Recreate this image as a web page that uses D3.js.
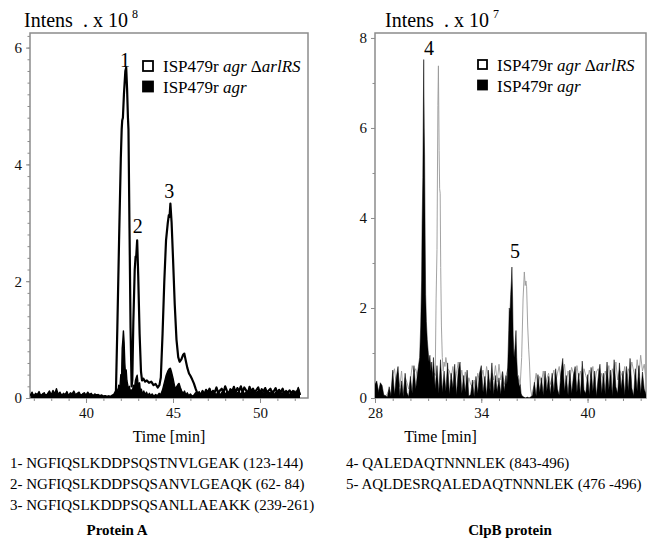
<!DOCTYPE html>
<html lang="en">
<head>
<meta charset="UTF-8">
<title>Protein A / ClpB chromatograms</title>
<script src="https://d3js.org/d3.v7.min.js"></script>
<style>
  body { margin: 0; background: #fff; }
  svg { display: block; font-family: "Liberation Serif", "Times New Roman", serif; }
</style>
</head>
<body>
<svg id="chart" width="655" height="546"></svg>
<script>
// ---------- data (intensity in units of 10^8 for protein A, 10^7 for ClpB) ----------

// Protein A, sampled every 0.1 min from 36.8 min
const protAStart = 36.8, protAStep = 0.1;
const protAAgrGrid = [
  0.05,0.10,0.03,0.08,0.06,0.11,0.04,0.07,0.09,0.03,
  0.08,0.12,0.05,0.13,0.07,0.16,0.06,0.10,0.04,0.08,
  0.06,0.11,0.04,0.09,0.07,0.12,0.05,0.08,0.10,0.04,
  0.07,0.09,0.05,0.10,0.06,0.08,0.04,0.07,0.05,0.06,
  0.04,0.05,0.03,0.04,0.02,0.03,0.02,0.03,0.03,0.05,
  0,0,0,0,0,0,0,0,0,0,
  0,0,0,0,0,0,0,0,0,0,
  0,0,0,0,0,0,0,0,0,0,
  0,0,0,0,0,0,0,0,0,0,
  0,0,0,0,0.05,0.09,0.04,0.11,0.06,0.08,
  0.05,0.12,0.07,0.10,0.04,0.13,0.08,0.06,0.11,0.05,
  0.09,0.14,0.06,0.10,0.05,0.12,0.08,0.15,0.06,0.09,
  0.11,0.05,0.13,0.07,0.10,0.04,0.12,0.08,0.14,0.06,
  0.09,0.12,0.05,0.11,0.07,0.13,0.06,0.10,0.08,0.12,
  0.05,0.10,0.07,0.13,0.06,0.09,0.04,0.11,0.08,0.06,
  0.10,0.05,0.12,0.07,0.18,0.06
];
const protADelGrid = [
  0.04,0.06,0.03,0.05,0.04,0.06,0.03,0.05,0.04,0.05,
  0.05,0.07,0.04,0.06,0.05,0.07,0.04,0.06,0.05,0.04,
  0.05,0.06,0.04,0.05,0.06,0.04,0.05,0.06,0.04,0.05,
  0.04,0.05,0.03,0.05,0.04,0.05,0.03,0.04,0.05,0.03,
  0.03,0.04,0.02,0.03,0.02,0.03,0.02,0.03,0.04,0.05,
  0,0,0,0,0,0,0,0,0,0,
  0,0,0,0,0,0,0,0,0,0,
  0,0,0,0,0,0,0,0,0,0,
  0,0,0,0,0,0,0,0,0,0,
  0,0,0,0,0,0,0,0,0.08,0.12,
  0.06,0.14,0.09,0.16,0.07,0.12,0.10,0.18,0.08,0.13,
  0.16,0.09,0.20,0.12,0.07,0.15,0.11,0.19,0.09,0.17,
  0.12,0.20,0.10,0.18,0.13,0.08,0.19,0.11,0.16,0.09,
  0.14,0.18,0.08,0.15,0.11,0.17,0.09,0.13,0.16,0.07,
  0.12,0.17,0.08,0.14,0.10,0.16,0.07,0.12,0.09,0.13,
  0.08,0.12,0.06,0.10,0.15,0.05
];
// peak regions [time, intensity]
const protAAgrPeaks = [
  [41.60,0.03],[41.70,0.08],[41.76,0.16],[41.82,0.06],[41.88,0.22],[41.94,0.14],[42.00,0.40],
  [42.04,0.30],[42.08,0.85],[42.12,1.00],[42.15,1.15],[42.19,0.95],[42.23,0.60],[42.27,0.40],
  [42.31,0.48],[42.35,0.30],[42.40,0.22],[42.45,0.12],[42.50,0.20],[42.55,0.06],[42.60,0.14],
  [42.66,0.10],[42.72,0.22],[42.78,0.16],[42.84,0.30],[42.90,0.36],[42.94,0.39],[42.98,0.28],
  [43.03,0.20],[43.08,0.26],[43.13,0.10],[43.18,0.15],[43.25,0.06],[43.32,0.12],[43.40,0.05],
  [43.48,0.10],[43.56,0.04],[43.64,0.08],[43.72,0.04],[43.80,0.07],[43.90,0.03],[44.00,0.06],
  [44.10,0.04],[44.20,0.08],[44.30,0.06],[44.40,0.14],[44.50,0.26],[44.60,0.38],[44.70,0.46],
  [44.78,0.50],[44.85,0.51],[44.92,0.44],[45.00,0.34],[45.08,0.22],[45.15,0.15],[45.22,0.20],
  [45.30,0.24],[45.35,0.25],[45.42,0.18],[45.50,0.12],[45.58,0.08],[45.66,0.12],[45.74,0.05],
  [45.82,0.09],[45.90,0.04],[46.00,0.07],[46.10,0.03]
];
const protADelPeaks = [
  [41.50,0.04],[41.62,0.06],[41.72,0.12],[41.80,1.20],[41.90,2.70],[42.00,4.10],[42.05,4.60],
  [42.08,4.75],[42.12,4.80],[42.18,5.20],[42.26,5.60],[42.31,5.66],[42.36,5.30],[42.41,4.80],
  [42.44,4.60],[42.50,2.90],[42.56,1.20],[42.62,0.20],[42.66,0.30],[42.72,1.30],[42.80,2.20],
  [42.85,2.42],[42.88,2.40],[42.94,2.70],[43.00,2.10],[43.08,1.10],[43.16,0.45],[43.22,0.30],
  [43.30,0.33],[43.40,0.28],[43.50,0.30],[43.62,0.26],[43.75,0.28],[43.88,0.22],[44.00,0.24],
  [44.12,0.18],[44.22,0.22],[44.30,0.35],[44.40,1.10],[44.50,2.00],[44.60,2.70],[44.70,3.00],
  [44.76,3.13],[44.80,3.10],[44.85,3.33],[44.92,3.00],[45.00,2.40],[45.10,1.60],[45.20,1.00],
  [45.30,0.70],[45.38,0.62],[45.48,0.66],[45.58,0.74],[45.65,0.76],[45.72,0.66],[45.82,0.52],
  [45.92,0.42],[46.00,0.38],[46.10,0.32],[46.20,0.25],[46.30,0.16],[46.40,0.08],[46.50,0.03],
  [46.60,0.06]
];

// ClpB, sampled every 0.1 min from 28.0 min
const clpBStart = 28.0, clpBStep = 0.1;
const clpBAgrGrid = [
  0.30,0.38,0.12,0.34,0.28,0.06,0.05,0.02,0.25,0.04,
  0.62,0.08,0.45,0.70,0.05,0.38,0.02,0.55,0.12,0.03,
  0.48,0.10,0.72,0.20,0.55,0.80,0.70,0.70,0.70,0.70,
  0.70,0.85,0.65,0.90,0.20,0.72,0.10,0.85,0.12,0.60,
  0.15,0.78,0.08,0.55,0.22,0.75,0.06,0.60,0.80,0.10,
  0.50,0.12,0.62,0.04,0.08,0.40,0.03,0.48,0.10,0.55,
  0.72,0.12,0.48,0.05,0.62,0.15,0.78,0.08,0.50,0.14,
  0.45,0.08,0.58,0.15,0.75,0.40,0.40,0.40,0.40,0.40,
  0.40,0.40,0.40,0.05,0.02,0.00,0.02,0.00,0.03,0.06,
  0.35,0.04,0.52,0.12,0.45,0.06,0.60,0.15,0.48,0.08,
  0.55,0.12,0.65,0.20,0.06,0.58,0.88,0.15,0.50,0.06,
  0.62,0.10,0.48,0.70,0.12,0.55,0.05,0.82,0.18,0.10,
  0.52,0.06,0.68,0.15,0.60,0.04,0.45,0.75,0.10,0.55,
  0.08,0.80,0.18,0.62,0.05,0.85,0.25,0.10,0.78,0.20,
  0.60,0.06,0.70,0.15,0.88,0.22,0.05,0.65,0.15,0.72,
  0.10,0.58,0.20,0.08
];
const clpBDelGrid = [
  0.20,0.30,0.15,0.28,0.10,0.08,0.04,0.10,0.18,0.05,
  0.50,0.65,0.30,0.55,0.25,0.60,0.10,0.45,0.35,0.20,
  0.40,0.72,0.58,0.65,0.45,0.50,0.60,0.70,0.55,0.45,
  0.55,0.80,0.60,0.50,0.50,0.50,0.50,0.50,0.50,0.50,
  0.90,0.65,0.60,0.45,0.70,0.30,0.55,0.80,0.40,0.62,
  0.35,0.58,0.20,0.45,0.30,0.25,0.40,0.15,0.55,0.38,
  0.48,0.62,0.30,0.70,0.45,0.25,0.55,0.40,0.72,0.35,
  0.75,0.40,0.60,0.30,0.50,0.65,0.45,0.70,0.55,0.60,
  0.40,0.50,0.30,0.30,0.30,0.30,0.30,0.30,0.30,0.15,
  0.30,0.55,0.25,0.48,0.35,0.60,0.20,0.42,0.55,0.30,
  0.45,0.62,0.35,0.55,0.70,0.40,0.50,0.75,0.30,0.60,
  0.40,0.68,0.55,0.35,0.72,0.45,0.60,0.30,0.65,0.50,
  0.38,0.62,0.45,0.70,0.30,0.58,0.65,0.40,0.55,0.35,
  0.60,0.45,0.72,0.30,0.65,0.50,0.80,0.40,0.62,0.55,
  0.45,0.70,0.35,0.65,0.55,0.80,0.60,0.40,0.85,0.50,
  0.95,0.60,0.75,0.40
];
const clpBAgrPeak4 = [
  [30.45,0.70],[30.52,0.90],[30.58,1.60],[30.63,2.60],[30.66,3.87],[30.70,4.90],[30.75,7.52],
  [30.78,6.00],[30.80,5.40],[30.83,3.60],[30.86,2.30],[30.90,1.70],[30.95,1.30],[31.00,1.05],
  [31.05,0.80],[31.10,0.95],[31.15,0.60],[31.20,0.80],[31.25,0.45]
];
const clpBAgrPeak5 = [
  [35.40,0.50],[35.45,0.30],[35.50,0.80],[35.55,1.50],[35.58,2.00],[35.62,1.90],[35.66,2.30],
  [35.70,2.60],[35.73,2.91],[35.77,2.20],[35.80,1.40],[35.85,0.90],[35.90,1.10],[35.96,1.50],
  [36.00,0.90],[36.05,0.50],[36.10,0.40],[36.15,0.25],[36.20,0.30],[36.25,0.10]
];
const clpBDelPeak4 = [
  [31.35,0.55],[31.40,0.50],[31.45,2.20],[31.50,3.30],[31.55,6.50],[31.58,7.38],[31.62,5.50],
  [31.65,4.65],[31.68,4.55],[31.71,2.90],[31.75,1.60],[31.80,0.90],[31.85,0.60],[31.90,0.80],
  [31.95,0.70]
];
const clpBDelPeak5 = [
  [36.20,0.30],[36.28,0.90],[36.36,2.20],[36.43,2.80],[36.48,2.50],[36.52,2.60],[36.56,2.47],
  [36.62,1.60],[36.68,1.07],[36.72,0.80],[36.78,0.20],[36.85,0.05]
];

// axes
const protAXTicks = [40, 45, 50];
const protAYTicks = [0, 2, 4, 6];
const clpBXTicks = [28, 34, 40];
const clpBYTicks = [0, 2, 4, 6, 8];

// peak numbers: [label, time, intensity where the number sits]
const protALabels = [["1", 42.24, 5.67], ["2", 42.97, 2.83], ["3", 44.79, 3.42]];
const clpBLabels = [["4", 31.05, 7.62], ["5", 35.90, 3.11]];

const protASeqs = [
  "1- NGFIQSLKDDPSQSTNVLGEAK (123-144)",
  "2- NGFIQSLKDDPSQSANVLGEAQK (62- 84)",
  "3- NGFIQSLKDDPSQSANLLAEAKK (239-261)"
];
const clpBSeqs = [
  "4- QALEDAQTNNNLEK (843-496)",
  "5- AQLDESRQALEDAQTNNNLEK (476 -496)"
];

// ---------- helpers ----------
function buildTrace(t0, step, grid, peakGroups) {
  let pts = grid.map((v, i) => [+(t0 + i * step).toFixed(2), v]);
  peakGroups.forEach(g => {
    const lo = g[0][0], hi = g[g.length - 1][0];
    pts = pts.filter(d => d[0] < lo || d[0] > hi).concat(g);
  });
  return pts.sort((a, b) => a[0] - b[0]);
}

const svg = d3.select("#chart");
const axisGray = "#8c8c8c";
const serif = "'Liberation Serif', 'Times New Roman', serif";

function drawPanel(p) {
  const x = d3.scaleLinear().domain(p.xDomain).range([p.left, p.right]);
  const y = d3.scaleLinear().domain(p.yDomain).range([p.bottom, p.top]);
  const g = svg.append("g");

  g.append("clipPath").attr("id", p.id + "-clip")
    .append("rect")
    .attr("x", p.left).attr("y", p.top)
    .attr("width", p.right - p.left).attr("height", p.bottom - p.top);

  // box
  g.append("rect")
    .attr("x", p.left).attr("y", p.top)
    .attr("width", p.right - p.left).attr("height", p.bottom - p.top)
    .attr("fill", "none").attr("stroke", axisGray).attr("stroke-width", 1.5);

  const area = d3.area().x(d => x(d[0])).y0(y(0)).y1(d => y(d[1]));
  const line = d3.line().x(d => x(d[0])).y(d => y(d[1]));
  const plot = g.append("g").attr("clip-path", "url(#" + p.id + "-clip)");

  p.traces.forEach(t => {
    if (t.fill) {
      plot.append("path").datum(t.data).attr("d", area).attr("fill", t.fill);
    }
    plot.append("path").datum(t.data).attr("d", line)
      .attr("fill", "none").attr("stroke", t.stroke)
      .attr("stroke-width", t.width).attr("stroke-linejoin", "round");
  });

  // y axis
  const yAxis = g.append("g").attr("transform", "translate(" + p.left + ",0)")
    .call(d3.axisLeft(y).tickValues(p.yTicks).tickSize(4).tickPadding(4).tickFormat(d3.format("d")));
  const yMinor = g.append("g").attr("transform", "translate(" + p.left + ",0)")
    .call(d3.axisLeft(y).tickValues(p.yMinor).tickSize(2.5).tickFormat(""));
  // x axis
  const xAxis = g.append("g").attr("transform", "translate(0," + p.bottom + ")")
    .call(d3.axisBottom(x).tickValues(p.xTicks).tickSize(5).tickPadding(4).tickFormat(d3.format("d")));
  const xMinor = g.append("g").attr("transform", "translate(0," + p.bottom + ")")
    .call(d3.axisBottom(x).tickValues(p.xMinor).tickSize(3).tickFormat(""));

  [yAxis, yMinor, xAxis, xMinor].forEach(a => {
    a.attr("font-family", serif);
    a.select(".domain").remove();
    a.selectAll("line").attr("stroke", axisGray);
    a.selectAll("text").attr("fill", "#111").style("font-size", "15px");
  });

  // x title
  g.append("text").attr("x", (p.left + p.right) / 2 - p.titleShift).attr("y", 442)
    .attr("text-anchor", "middle").style("font-size", "16px").text("Time [min]");

  // intensity title
  const it = g.append("text").attr("x", p.titleX).attr("y", 27).style("font-size", "20px");
  it.append("tspan").text("Intens\u00A0\u00A0. x 10");
  it.append("tspan").attr("dx", 4).attr("dy", -9).style("font-size", "12px").text(p.exponent);

  // peak numbers
  g.selectAll(".peak").data(p.labels).join("text")
    .attr("x", d => x(d[1])).attr("y", d => y(d[2]))
    .attr("text-anchor", "middle").style("font-size", "20px").text(d => d[0]);

  // legend
  const lg = g.append("g").attr("transform", "translate(" + p.legendX + "," + p.legendY + ")");
  [["#fff", 0], ["#000", 20.5]].forEach(([fill, dy]) => {
    lg.append("rect").attr("x", 0).attr("y", dy - 11).attr("width", p.sq).attr("height", p.sq)
      .attr("fill", fill).attr("stroke", "#000").attr("stroke-width", 1.8);
  });
  const t1 = lg.append("text").attr("x", p.sq + 10).attr("y", 0).style("font-size", "17px");
  t1.append("tspan").text("ISP479r ");
  t1.append("tspan").style("font-style", "italic").text("agr");
  t1.append("tspan").text(" \u0394");
  t1.append("tspan").style("font-style", "italic").text("arlRS");
  const t2 = lg.append("text").attr("x", p.sq + 10).attr("y", 20.5).style("font-size", "17px");
  t2.append("tspan").text("ISP479r ");
  t2.append("tspan").style("font-style", "italic").text("agr");
}

drawPanel({
  id: "protA", left: 30, right: 308, top: 33, bottom: 398,
  xDomain: [36.78, 52.76], yDomain: [0, 6.25],
  xTicks: protAXTicks, xMinor: d3.range(37, 53, 1),
  yTicks: protAYTicks, yMinor: d3.range(0, 6.21, 0.2),
  traces: [
    { data: buildTrace(protAStart, protAStep, protADelGrid, [protADelPeaks]), fill: "#fff", stroke: "#000", width: 2.2 },
    { data: buildTrace(protAStart, protAStep, protAAgrGrid, [protAAgrPeaks]), fill: "#000", stroke: "#000", width: 1.4 }
  ],
  labels: protALabels, exponent: "8", titleX: 24, titleShift: 0,
  legendX: 143, legendY: 72, sq: 10
});

drawPanel({
  id: "clpB", left: 375, right: 646, top: 33, bottom: 398,
  xDomain: [28, 43.3], yDomain: [0, 8.11],
  xTicks: clpBXTicks, xMinor: d3.range(28, 44, 1),
  yTicks: clpBYTicks, yMinor: [1, 3, 5, 7],
  traces: [
    { data: buildTrace(clpBStart, clpBStep, clpBDelGrid, [clpBDelPeak4, clpBDelPeak5]), fill: null, stroke: "#999", width: 0.9 },
    { data: buildTrace(clpBStart, clpBStep, clpBAgrGrid, [clpBAgrPeak4, clpBAgrPeak5]), fill: "#000", stroke: "#000", width: 0.5 }
  ],
  labels: clpBLabels, exponent: "7", titleX: 385, titleShift: 70,
  legendX: 478, legendY: 71, sq: 9
});

// peptide lists
svg.append("g").selectAll("text").data(protASeqs).join("text")
  .attr("x", 10).attr("y", (d, i) => 468 + i * 21)
  .style("font-size", "15px").text(d => d);
svg.append("g").selectAll("text").data(clpBSeqs).join("text")
  .attr("x", 346).attr("y", (d, i) => 468 + i * 21)
  .style("font-size", "15px").text(d => d);

svg.append("text").attr("x", 117).attr("y", 535).attr("text-anchor", "middle")
  .style("font-size", "15px").style("font-weight", "bold").text("Protein A");
svg.append("text").attr("x", 510).attr("y", 535).attr("text-anchor", "middle")
  .style("font-size", "15px").style("font-weight", "bold").text("ClpB protein");
</script>
</body>
</html>
